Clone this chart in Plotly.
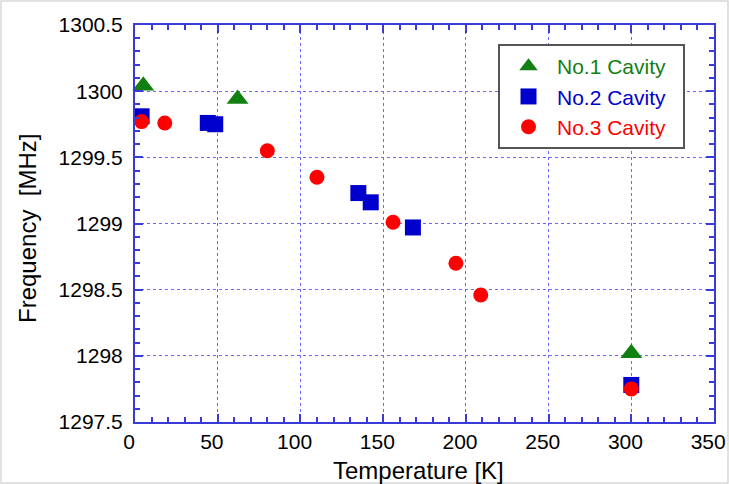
import plotly.graph_objects as go

# ---- data ----
cav1_T = [5, 62, 300]
cav1_f = [1300.04, 1299.94, 1298.02]

cav2_T = [4, 44, 48.5, 135, 142.5, 168, 300]
cav2_f = [1299.81, 1299.76, 1299.75, 1299.23, 1299.16, 1298.97, 1297.78]

cav3_T = [4, 18, 80, 110, 156, 194, 209, 300]
cav3_f = [1299.77, 1299.76, 1299.55, 1299.35, 1299.01, 1298.70, 1298.46, 1297.75]

series_names = ["No.1 Cavity", "No.2 Cavity", "No.3 Cavity"]

x_ticks = [0, 50, 100, 150, 200, 250, 300, 350]
x_tick_labels = ["0", "50", "100", "150", "200", "250", "300", "350"]
y_ticks = [1297.5, 1298, 1298.5, 1299, 1299.5, 1300, 1300.5]
y_tick_labels = ["1297.5", "1298", "1298.5", "1299", "1299.5", "1300", "1300.5"]

FONT = "Arial, Liberation Sans, sans-serif"
GREEN = "#118011"
BLUE = "#0000cc"
RED = "#ff0000"
AXIS = "#3a3ad8"
GRID = "#6a6af5"
COLORS = [GREEN, BLUE, RED]


def legend_label(name, color):
    return f'<span style="color:{color}">{name}</span>&nbsp;&nbsp;'


fig = go.Figure()
fig.add_trace(go.Scatter(x=cav1_T, y=cav1_f, mode="markers",
                         name=legend_label(series_names[0], COLORS[0]),
                         marker=dict(symbol="triangle-up", size=19, color=GREEN),
                         cliponaxis=False))
fig.add_trace(go.Scatter(x=cav2_T, y=cav2_f, mode="markers",
                         name=legend_label(series_names[1], COLORS[1]),
                         marker=dict(symbol="square", size=16, color=BLUE),
                         cliponaxis=False))
fig.add_trace(go.Scatter(x=cav3_T, y=cav3_f, mode="markers",
                         name=legend_label(series_names[2], COLORS[2]),
                         marker=dict(symbol="circle", size=15, color=RED),
                         cliponaxis=False))

L, R, T, B = 135, 15, 25, 62
W, H = 729, 484
pw = W - L - R
ph = H - T - B

fig.update_layout(
    width=W, height=H,
    margin=dict(l=L, r=R, t=T, b=B, autoexpand=False),
    paper_bgcolor="white", plot_bgcolor="white",
    font=dict(family=FONT, color="black", size=21),
    showlegend=True,
    legend=dict(
        x=(498 - L) / pw, y=(H - B - 44) / ph, xanchor="left", yanchor="top",
        bordercolor="#555555", borderwidth=2, bgcolor="white",
        font=dict(size=21, family=FONT),
        itemwidth=47,
        tracegroupgap=0,
    ),
    annotations=[
        dict(text="Temperature [K]", xref="paper", yref="paper",
             x=(418 - L) / pw, y=(H - B - 470) / ph, xanchor="center", yanchor="middle",
             showarrow=False, font=dict(size=24, family=FONT, color="black")),
        dict(text="Frequency  [MHz]", xref="paper", yref="paper",
             x=(27 - L) / pw, y=(H - B - 229) / ph, xanchor="center", yanchor="middle",
             textangle=-90, showarrow=False,
             font=dict(size=24, family=FONT, color="black")),
    ],
    shapes=[
        dict(type="rect", xref="paper", yref="paper",
             x0=(1 - L) / pw, x1=(W - 1 - L) / pw,
             y0=(H - B - (H - 1)) / ph, y1=(H - B - 1) / ph,
             line=dict(color="#d8d8d8", width=1.5), layer="below"),
    ],
)

fig.update_xaxes(
    range=[0, 350], tickvals=x_ticks,
    ticktext=[t + "&nbsp;&nbsp;" for t in x_tick_labels],
    showline=True, linecolor=AXIS, linewidth=2, mirror="ticks",
    ticks="inside", ticklen=8, tickwidth=1.5, tickcolor=AXIS,
    showgrid=True, gridcolor=GRID, gridwidth=1, griddash="dot",
    zeroline=False, automargin=False,
    minor=dict(dtick=10, ticks="inside", ticklen=5, tickcolor=AXIS, tickwidth=1.5, showgrid=False),
    tickfont=dict(size=21), ticklabeloverflow="allow",
)
fig.update_yaxes(
    range=[1297.5, 1300.5], tickvals=y_ticks, ticktext=y_tick_labels,
    showline=True, linecolor=AXIS, linewidth=2, mirror="ticks",
    ticks="inside", ticklen=8, tickwidth=1.5, tickcolor=AXIS,
    showgrid=True, gridcolor=GRID, gridwidth=1, griddash="dot",
    zeroline=False, automargin=False,
    minor=dict(dtick=0.1, ticks="inside", ticklen=5, tickcolor=AXIS, tickwidth=1.5, showgrid=False),
    tickfont=dict(size=21), ticklabelstandoff=6, ticklabeloverflow="allow",
)

fig.write_html(
    "out.html",
    config={"displayModeBar": False},
    post_script="document.body.style.margin='0';document.body.style.overflow='hidden';",
)
